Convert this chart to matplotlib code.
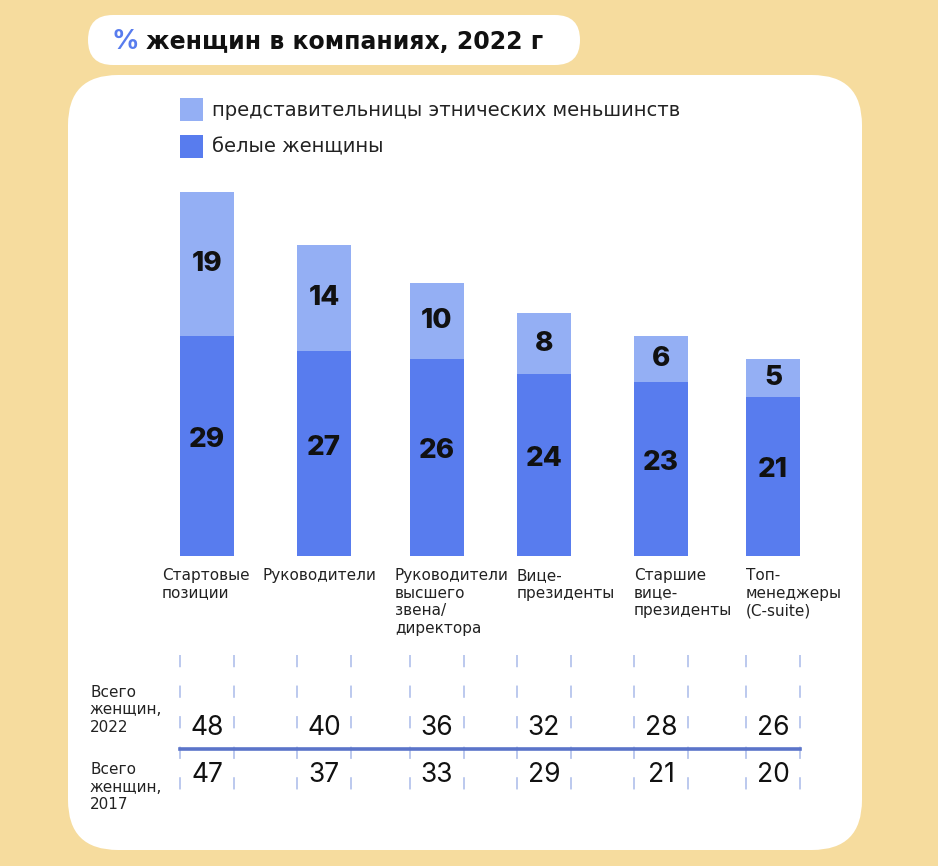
import matplotlib
matplotlib.use("Agg")
from matplotlib import pyplot as plt
from matplotlib.patches import FancyBboxPatch, Rectangle
from matplotlib.lines import Line2D

plt.rcParams['font.family'] = ['Inter', 'DejaVu Sans']

# data
categories = ['Стартовые\nпозиции', 'Руководители', 'Руководители\nвысшего\nзвена/\nдиректора',
              'Вице-\nпрезиденты', 'Старшие\nвице-\nпрезиденты', 'Топ-\nменеджеры\n(C-suite)']
white_women = [29, 27, 26, 24, 23, 21]
minority_women = [19, 14, 10, 8, 6, 5]
total_2022 = [48, 40, 36, 32, 28, 26]
total_2017 = [47, 37, 33, 29, 21, 20]

# layout (pixels)
W, H = 938, 866
centers = [207, 324, 437, 544, 661, 773]
label_shift = [-18, -34, -15, 0, 0, 0]
bar_w = 54
DARK = '#587CEE'
LIGHT = '#94AFF4'
BG = '#F6DC9E'
REG = ['DejaVu Sans']


def fy(y):
    return 1 - y / H


fig = plt.figure(figsize=(W / 100, H / 100), dpi=100, facecolor=BG)

# background shapes
bg = fig.add_axes([0, 0, 1, 1], zorder=0)
bg.set_xlim(0, W)
bg.set_ylim(H, 0)
bg.axis('off')
bg.add_patch(FancyBboxPatch((68 + 50, 75 + 50), 794 - 100, 775 - 100,
                            boxstyle='round,pad=50', fc='white', ec='none'))
bg.add_patch(FancyBboxPatch((88 + 25, 15 + 25), 492 - 50, 50 - 50,
                            boxstyle='round,pad=25', fc='white', ec='none'))

# title
bg.text(112, 42, '%', color=DARK, fontsize=19.5, fontweight='bold', va='center', ha='left')
bg.text(146, 42, 'женщин в компаниях, 2022 г', color='#111111', fontsize=17,
        family=['DejaVu Sans'], fontweight='bold', va='center', ha='left')

# legend
bg.add_patch(Rectangle((180, 98), 23, 23, fc=LIGHT, ec='none'))
bg.add_patch(Rectangle((180, 135), 23, 23, fc=DARK, ec='none'))
bg.text(212, 110, 'представительницы этнических меньшинств', fontsize=14,
        family=REG, color='#222222', va='center', ha='left')
bg.text(212, 147, 'белые женщины', fontsize=14, family=REG, color='#222222',
        va='center', ha='left')

# bars
base_y = 556
top_val = 50
px_per_unit = 364 / 48
ax = fig.add_axes([0, fy(base_y), 1, top_val * px_per_unit / H], zorder=1)
ax.set_xlim(0, W)
ax.set_ylim(0, top_val)
ax.axis('off')
ax.patch.set_alpha(0)
ax.bar(centers, white_women, width=bar_w, color=DARK)
ax.bar(centers, minority_women, width=bar_w, bottom=white_women, color=LIGHT)
for c, w, m in zip(centers, white_women, minority_women):
    ax.text(c, w / 2 + 0.8, str(w), ha='center', va='center', fontsize=20,
            fontweight='heavy', color='#111111')
    ax.text(c, w + m / 2, str(m), ha='center', va='center', fontsize=20,
            fontweight='heavy', color='#111111')

# category labels
for c, s, lab in zip(centers, label_shift, categories):
    bg.text(c - bar_w / 2 + s, 568, lab, fontsize=11, family=REG, color='#222222',
            va='top', ha='left', linespacing=1.22)

# table part
for c in centers:
    for xe in (c - bar_w / 2, c + bar_w / 2):
        bg.add_line(Line2D([xe, xe], [655, 800], color='#A9BAEA', lw=1.1,
                           linestyle=(0, (8, 12))))
bg.add_line(Line2D([180, 800], [749, 749], color='#5B74C9', lw=2.6))
for c, a, b in zip(centers, total_2022, total_2017):
    bg.text(c, 728, str(a), ha='center', va='center', fontsize=19, color='#111111')
    bg.text(c, 775, str(b), ha='center', va='center', fontsize=19, color='#111111')
bg.text(90, 710, 'Всего\nженщин,\n2022', fontsize=11, family=REG, color='#222222',
        va='center', ha='left', linespacing=1.2)
bg.text(90, 787, 'Всего\nженщин,\n2017', fontsize=11, family=REG, color='#222222',
        va='center', ha='left', linespacing=1.2)

fig.savefig('out.png', dpi=100, facecolor=BG)
